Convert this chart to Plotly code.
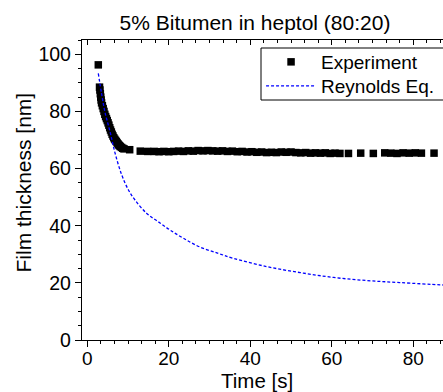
import plotly.graph_objects as go

# Experiment (time [s], film thickness [nm])
exp_t = [2.7, 3.0, 3.1, 3.2, 3.3, 3.4, 3.5, 3.7, 3.9, 4.1, 4.3, 4.5, 4.7, 4.9,
         5.1, 5.3, 5.5, 5.7, 5.9, 6.1, 6.3, 6.5, 6.7, 6.9, 7.1, 7.3, 7.5, 7.7,
         7.9, 8.1, 8.4, 8.7, 9.0, 10.4, 13.0, 14.8,
         16.4, 17.6, 18.8, 20.0, 21.2, 22.4, 23.6, 24.8, 26.0, 27.2, 28.4, 29.6,
         30.8, 32.0, 33.2, 34.4, 35.6, 36.8, 38.0, 39.2, 40.4, 41.6, 42.8, 44.0,
         45.2, 46.4, 47.6, 48.8, 50.0, 51.2, 52.4, 53.6, 54.8, 56.0, 57.2, 58.4,
         59.6, 60.8, 62.0, 64.1, 67.1, 70.2, 73.0, 74.5, 76.0, 77.5, 79.0, 80.5,
         82.0, 85.1]
exp_h = [96.3, 88.5, 87.5, 86.2, 85.0, 84.0, 83.0, 82.0, 81.0, 80.0, 79.0, 78.2,
         77.5, 76.8, 76.0, 75.2, 74.3, 73.5, 72.8, 72.0, 71.4, 70.8, 70.3, 69.9,
         69.5, 69.1, 68.7, 68.3, 68.0, 67.7, 67.4, 67.1, 66.9, 66.6, 66.1, 66.0,
         66.0, 65.9, 66.0, 65.9, 66.0, 66.1, 66.0, 66.2, 66.1, 66.3, 66.2, 66.3,
         66.2, 66.1, 66.2, 66.0, 66.1, 65.9, 66.0, 65.8, 65.9, 65.7, 65.8, 65.6,
         65.7, 65.6, 65.8, 65.7, 65.8, 65.6, 65.5, 65.6, 65.4, 65.5, 65.4, 65.5,
         65.3, 65.4, 65.3, 65.3, 65.4, 65.3, 65.5, 65.4, 65.3, 65.5, 65.4, 65.5,
         65.4, 65.4]

# Reynolds equation curve (time [s], film thickness [nm])
rey_t = [2.7, 3.5, 4.3, 5.6, 6.8, 8.4, 10.1, 11.7, 14.6, 17.4, 20.3, 23.6,
         27.7, 32.2, 35.8, 44.0, 52.2, 60.4, 68.6, 76.7, 86.6, 88.0]
rey_h = [93.3, 86.3, 80.0, 72.8, 65.5, 58.0, 52.5, 49.0, 44.3, 41.4, 38.5,
         35.6, 32.5, 30.3, 28.6, 25.7, 23.6, 21.9, 20.8, 20.1, 19.3, 19.2]

FONT = "Arial, 'Liberation Sans', sans-serif"

fig = go.Figure()
fig.add_trace(go.Scatter(
    x=exp_t, y=exp_h, mode="markers", name="Experiment", legend="legend",
    marker=dict(symbol="square", size=7.5, color="black", line=dict(width=0)),
))
fig.add_trace(go.Scatter(
    x=rey_t, y=rey_h, mode="lines", name="Reynolds Eq.", legend="legend2",
    line=dict(color="#0000ff", width=1.3, dash="3px,2px", shape="spline"),
))
fig.add_trace(go.Scatter(x=[None], y=[None], xaxis="x2", yaxis="y",
                         showlegend=False, hoverinfo="skip", mode="markers"))

leg_common = dict(x=0.496, xanchor="left", yanchor="top",
                  bgcolor="rgba(0,0,0,0)", borderwidth=0,
                  font=dict(size=19, family=FONT), itemwidth=50)

fig.update_layout(
    width=443, height=392,
    margin=dict(l=82, r=0, t=40, b=52),
    paper_bgcolor="white", plot_bgcolor="white",
    font=dict(family=FONT, size=19, color="black"),
    title=dict(text="5% Bitumen in heptol (80:20)", x=255 / 443, xanchor="center",
               y=1 - 23 / 392, yanchor="middle", font=dict(size=21, family=FONT)),
    showlegend=True,
    legend=dict(y=(340 - 43) / 300, **leg_common),
    legend2=dict(y=(340 - 67) / 300, **leg_common),
    xaxis=dict(range=[-1.3, 87.3], showline=True, linecolor="black", linewidth=1.3,
               ticks="outside", ticklen=6, tickwidth=1.2, tickcolor="black",
               dtick=20, tick0=0, showgrid=False, zeroline=False,
               ticklabelstandoff=-5,
               minor=dict(dtick=20 / 6, tick0=0, ticks="outside", ticklen=3,
                          tickwidth=1, tickcolor="black", showgrid=False),
               tickfont=dict(size=19)),
    xaxis2=dict(overlaying="x", matches="x", side="top", anchor="y",
                showline=True, linecolor="black", linewidth=1.3,
                ticks="inside", ticklen=5, tickwidth=1.2, tickcolor="black",
                dtick=20, tick0=0, showticklabels=False, showgrid=False,
                zeroline=False,
                minor=dict(dtick=20 / 6, tick0=0, ticks="inside", ticklen=3,
                           tickwidth=1, tickcolor="black", showgrid=False)),
    yaxis=dict(range=[0, 105], showline=True, linecolor="black", linewidth=1.3,
               ticks="outside", ticklen=6, tickwidth=1.2, tickcolor="black",
               dtick=20, tick0=0, showgrid=False, zeroline=False, mirror=False,
               minor=dict(dtick=5, tick0=0, ticks="outside", ticklen=3,
                          tickwidth=1, tickcolor="black", showgrid=False),
               tickfont=dict(size=19.5)),
)

# legend frame (extends past the right edge, as in the reference)
fig.add_shape(type="rect", xref="paper", yref="paper",
              x0=(261 - 82) / 361, x1=1.1,
              y0=(340 - 100) / 300, y1=(340 - 48) / 300,
              line=dict(color="black", width=1), fillcolor="rgba(0,0,0,0)",
              layer="above")

fig.add_annotation(text="Time [s]", xref="paper", yref="paper",
                   x=(257 - 82) / 361, y=-(380.5 - 340) / 300,
                   xanchor="center", yanchor="middle", showarrow=False,
                   font=dict(size=20.5, family=FONT))
fig.add_annotation(text="Film thickness [nm]", xref="paper", yref="paper",
                   x=-(82 - 23) / 361, y=(340 - 182.5) / 300, textangle=-90,
                   xanchor="center", yanchor="middle", showarrow=False,
                   font=dict(size=21, family=FONT))

fig.write_html("out.html", config={"displayModeBar": False},
               post_script="document.body.style.margin='0px';")
